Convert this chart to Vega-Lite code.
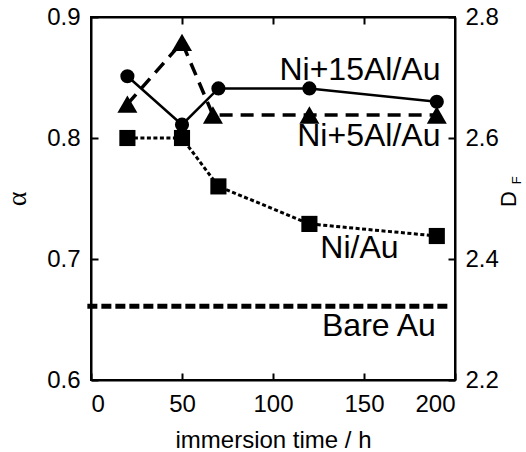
{
  "$schema": "https://vega.github.io/schema/vega-lite/v6.json",
  "width": 364,
  "height": 363,
  "autosize": "none",
  "padding": {"left": 91, "top": 17, "right": 71, "bottom": 72},
  "background": "white",
  "config": {
    "view": {"stroke": "black", "strokeWidth": 2},
    "font": "Liberation Sans",
    "axis": {
      "domainColor": "black",
      "domainWidth": 2,
      "tickColor": "black",
      "tickWidth": 2,
      "tickSize": -7,
      "grid": false,
      "labelFont": "Liberation Sans",
      "labelFontSize": 24,
      "labelColor": "black",
      "titleFont": "Liberation Sans",
      "titleFontSize": 24,
      "titleFontWeight": "normal",
      "titleColor": "black"
    }
  },
  "datasets": {
    "ni15": [
      {"time": 20, "alpha": 0.851},
      {"time": 50, "alpha": 0.811},
      {"time": 70, "alpha": 0.841},
      {"time": 120, "alpha": 0.841},
      {"time": 190, "alpha": 0.830}
    ],
    "ni5": [
      {"time": 20, "alpha": 0.828},
      {"time": 50, "alpha": 0.879},
      {"time": 67, "alpha": 0.819},
      {"time": 120, "alpha": 0.819},
      {"time": 190, "alpha": 0.819}
    ],
    "ni": [
      {"time": 20, "alpha": 0.800},
      {"time": 50, "alpha": 0.800},
      {"time": 70, "alpha": 0.760},
      {"time": 120, "alpha": 0.729},
      {"time": 190, "alpha": 0.719}
    ],
    "bare": [
      {"time": -2, "alpha": 0.661},
      {"time": 197, "alpha": 0.661}
    ],
    "labels": [
      {"label": "Ni+15Al/Au", "time": 192, "alpha": 0.848},
      {"label": "Ni+5Al/Au", "time": 192, "alpha": 0.793},
      {"label": "Ni/Au", "time": 169, "alpha": 0.701},
      {"label": "Bare Au", "time": 189.5, "alpha": 0.636}
    ],
    "sub": [
      {"label": "F", "time": 234, "alpha": 0.765}
    ],
    "df": [
      {"time": 0, "DF": 2.2},
      {"time": 200, "DF": 2.8}
    ]
  },
  "layer": [
    {
      "encoding": {
        "x": {
          "field": "time",
          "type": "quantitative",
          "scale": {"domain": [0, 200], "nice": false},
          "axis": {"values": [0, 50, 100, 150, 200], "title": "immersion time / h", "labelPadding": 19, "titlePadding": 12}
        },
        "y": {
          "field": "alpha",
          "type": "quantitative",
          "scale": {"domain": [0.6, 0.9], "nice": false, "zero": false},
          "axis": {"values": [0.6, 0.7, 0.8, 0.9], "format": ".1f", "title": "α", "titleFont": "Liberation Serif", "titleFontSize": 28, "labelPadding": 18, "titlePadding": 15}
        }
      },
      "layer": [
        {"data": {"name": "bare"}, "mark": {"type": "line", "color": "black", "strokeWidth": 5, "strokeDash": [10, 4]}},
        {"data": {"name": "ni"}, "mark": {"type": "line", "color": "black", "strokeWidth": 3, "strokeDash": [4, 2.5]}},
        {"data": {"name": "ni"}, "mark": {"type": "point", "shape": "square", "filled": true, "color": "black", "opacity": 1, "size": 260}},
        {"data": {"name": "ni5"}, "mark": {"type": "line", "color": "black", "strokeWidth": 3.5, "strokeDash": [13, 8]}},
        {"data": {"name": "ni5"}, "mark": {"type": "point", "shape": "triangle-up", "filled": true, "color": "black", "opacity": 1, "size": 400}},
        {"data": {"name": "ni15"}, "mark": {"type": "line", "color": "black", "strokeWidth": 2.5}},
        {"data": {"name": "ni15"}, "mark": {"type": "point", "shape": "circle", "filled": true, "color": "black", "opacity": 1, "size": 200}},
        {"data": {"name": "labels"}, "mark": {"type": "text", "align": "right", "baseline": "alphabetic", "font": "Liberation Sans", "fontSize": 32, "color": "black"}, "encoding": {"text": {"field": "label"}}},
        {"data": {"name": "sub"}, "mark": {"type": "text", "align": "center", "baseline": "middle", "angle": 270, "font": "Liberation Sans", "fontSize": 13, "color": "black"}, "encoding": {"text": {"field": "label"}}}
      ]
    },
    {
      "data": {"name": "df"},
      "mark": {"type": "point", "opacity": 0},
      "encoding": {
        "x": {
          "field": "time",
          "type": "quantitative",
          "scale": {"domain": [0, 200], "nice": false},
          "axis": {"orient": "top", "values": [50, 100, 150], "labels": false, "title": null}
        },
        "y": {
          "field": "DF",
          "type": "quantitative",
          "scale": {"domain": [2.2, 2.8], "nice": false, "zero": false},
          "axis": {"orient": "right", "values": [2.2, 2.4, 2.6, 2.8], "format": ".1f", "title": "D", "titleFontSize": 22, "titleAngle": 270, "labelPadding": 17, "titlePadding": 22}
        }
      }
    }
  ],
  "resolve": {"scale": {"y": "independent"}, "axis": {"x": "independent"}}
}
